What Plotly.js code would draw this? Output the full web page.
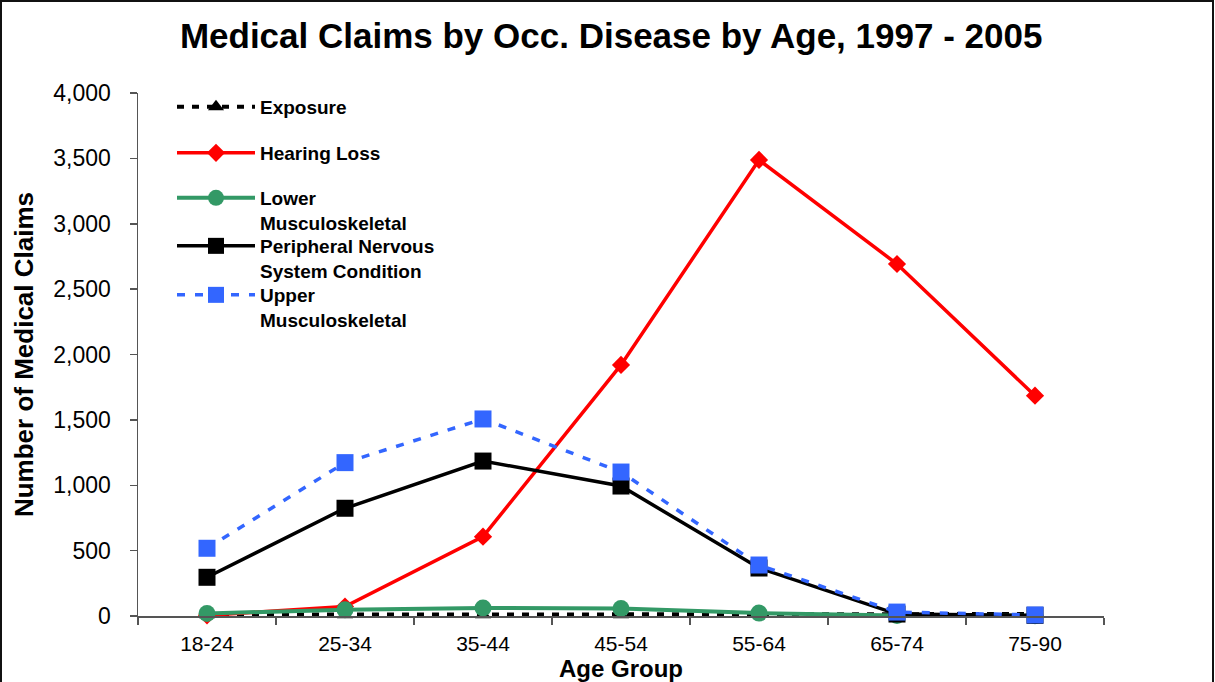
<!DOCTYPE html>
<html>
<head>
<meta charset="utf-8">
<script src="https://cdn.plot.ly/plotly-3.0.1.min.js"></script>
<style>
  html, body { margin: 0; padding: 0; background: #fff; }
  #wrap { position: relative; width: 1215px; height: 682px; overflow: hidden; }
  #chart { width: 1215px; height: 682px; }
  #frame { position: absolute; left: 0; top: 0; width: 1214px; height: 700px;
           border: 2px solid #111; box-sizing: border-box; pointer-events: none; }
</style>
</head>
<body>
<div id="wrap"><div id="chart"></div><div id="frame"></div></div>
<script>
// ---- data ----
const ageGroups = ['18-24', '25-34', '35-44', '45-54', '55-64', '65-74', '75-90'];
const exposure = [10, 10, 10, 10, 15, 10, 15];
const hearingLoss = [5, 72, 607, 1920, 3488, 2692, 1685];
const lowerMusculoskeletal = [20, 48, 62, 58, 22, 3, 2];
const peripheralNervous = [296, 824, 1185, 994, 367, 15, 5];
const upperMusculoskeletal = [518, 1173, 1507, 1101, 390, 30, 8];
const seriesNames = ['Exposure', 'Hearing Loss', 'Lower<br>Musculoskeletal',
                     'Peripheral Nervous<br>System Condition', 'Upper<br>Musculoskeletal'];

const FONT = 'Liberation Sans, Arial, Helvetica, sans-serif';

const traces = [
  { x: ageGroups, y: exposure, name: seriesNames[0], legend: 'legend',
    mode: 'lines+markers', cliponaxis: false,
    line: { color: '#000000', width: 4, dash: '7px,8px' },
    marker: { symbol: 'triangle-up', size: 14, color: '#000000' } },
  { x: ageGroups, y: hearingLoss, name: seriesNames[1], legend: 'legend2',
    mode: 'lines+markers', cliponaxis: false,
    line: { color: '#FF0000', width: 3.5 },
    marker: { symbol: 'diamond', size: 14, color: '#FF0000' } },
  { x: ageGroups, y: lowerMusculoskeletal, name: seriesNames[2], legend: 'legend3',
    mode: 'lines+markers', cliponaxis: false,
    line: { color: '#339966', width: 4 },
    marker: { symbol: 'circle', size: 17, color: '#339966' } },
  { x: ageGroups, y: peripheralNervous, name: seriesNames[3], legend: 'legend4',
    mode: 'lines+markers', cliponaxis: false,
    line: { color: '#000000', width: 3.5 },
    marker: { symbol: 'square', size: 17, color: '#000000' } },
  { x: ageGroups, y: upperMusculoskeletal, name: seriesNames[4], legend: 'legend5',
    mode: 'lines+markers', cliponaxis: false,
    line: { color: '#3366FF', width: 3.5, dash: '8px,10px' },
    marker: { symbol: 'square', size: 17, color: '#3366FF' } }
];

// plot area: left 138, right 1104, top 93, bottom 616
const plotTop = 93, plotBottom = 616;
const LEGEND_SIZE = 19;
function py(px) { return (plotBottom - px) / (plotBottom - plotTop); }
function legendAt(firstLineCenter) {
  return {
    x: (172 - 138) / 966, xanchor: 'left',
    y: py(firstLineCenter - 19), yanchor: 'top',
    bgcolor: 'rgba(0,0,0,0)', borderwidth: 0,
    font: { family: FONT, size: LEGEND_SIZE, color: '#000000', weight: 'bold' },
    itemwidth: 78, valign: 'top', tracegroupgap: 0
  };
}

const layout = {
  width: 1215, height: 682,
  margin: { l: 138, r: 111, t: 93, b: 66 },
  paper_bgcolor: '#ffffff', plot_bgcolor: '#ffffff',
  font: { family: FONT, color: '#000000' },
  title: {
    text: '<b>Medical Claims by Occ. Disease by Age, 1997 - 2005</b>',
    font: { family: FONT, size: 35, color: '#000000' },
    xref: 'container', x: 0.503, xanchor: 'center',
    yref: 'container', y: 1 - 36 / 682, yanchor: 'middle'
  },
  xaxis: {
    type: 'category', range: [-0.5, 6.5],
    showline: true, linecolor: '#555555', linewidth: 1.5, mirror: false,
    showgrid: false, zeroline: false,
    ticks: 'outside', tickson: 'boundaries', ticklen: 7, tickcolor: '#555555', tickwidth: 1.5,
    ticklabelstandoff: 8,
    tickfont: { family: FONT, size: 21, color: '#000000' },
    title: { text: '<b>Age Group</b>', font: { family: FONT, size: 24, color: '#000000' }, standoff: 5 }
  },
  yaxis: {
    range: [0, 4000], dtick: 500, tickformat: ',d',
    showline: true, linecolor: '#555555', linewidth: 1.5,
    showgrid: false, zeroline: false,
    ticks: 'outside', ticklen: 7, tickcolor: '#555555', tickwidth: 1.5,
    ticklabelstandoff: 14,
    tickfont: { family: FONT, size: 23, color: '#000000' },
    title: { text: '<b>Number of Medical Claims</b>', font: { family: FONT, size: 26, color: '#000000' }, standoff: 12 }
  },
  legend: legendAt(107),
  legend2: legendAt(153),
  legend3: legendAt(198),
  legend4: legendAt(246),
  legend5: legendAt(295),
  showlegend: true
};

Plotly.newPlot('chart', traces, layout, { displayModeBar: false, staticPlot: true });
</script>
</body>
</html>
